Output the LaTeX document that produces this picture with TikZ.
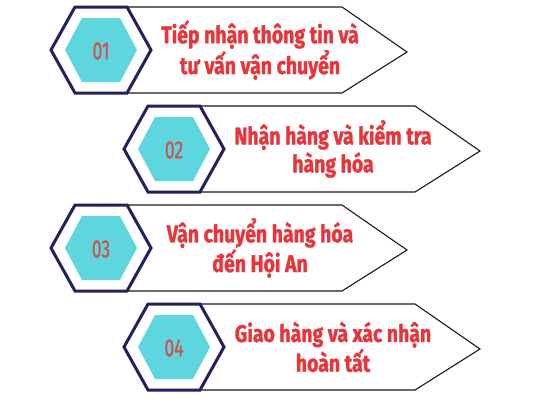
\documentclass[tikz,border=0pt]{standalone}
\usepackage{fontspec}
\setmainfont{Fira Sans}
\newfontfamily\labfont[FakeStretch=0.81,FakeBold=1.3]{Fira Sans Bold}
\newfontfamily\numfont[FakeStretch=0.7,FakeBold=0.5]{Fira Sans}
\definecolor{navy}{HTML}{232060}
\definecolor{cyanfill}{HTML}{5ED6DE}
\definecolor{labred}{HTML}{E8353B}
\definecolor{numred}{HTML}{D0504F}
\tikzset{
 outerhex/.style={draw=navy, line width=3pt, fill=white, line join=miter},
 innerhex/.style={fill=cyanfill},
 arrowbox/.style={draw=black!90, line width=1.1pt, fill=white},
 numtxt/.style={text=numred, font=\numfont\fontsize{25}{25}\selectfont, inner sep=0pt},
 labtxt/.style={text=labred, font=\labfont\fontsize{24}{28}\selectfont, align=center, inner sep=0pt},
}
\begin{document}
\begin{tikzpicture}[x=1pt,y=-1pt]
\useasboundingbox (0,0) rectangle (533,400);
\foreach \L/\cy/\n/\txt in {
  51/50/01/{Tiếp nhận thông tin và\\tư vấn vận chuyển},
  124/149/02/{Nhận hàng và kiểm tra\\hàng hóa},
  51/248/03/{Vận chuyển hàng hóa\\đến Hội An},
  124/347/04/{Giao hàng và xác nhận\\hoàn tất}}{
  \draw[arrowbox] (\L+76,\cy-43) -- (\L+291,\cy-43) -- (\L+356,\cy+2) -- (\L+291,\cy+43) -- (\L+76,\cy+43) -- cycle;
  \draw[outerhex] (\L,\cy) -- (\L+24,\cy-43) -- (\L+76,\cy-43) -- (\L+100,\cy) -- (\L+76,\cy+43) -- (\L+24,\cy+43) -- cycle;
  \fill[innerhex] (\L+14,\cy) -- (\L+31,\cy-32) -- (\L+69,\cy-32) -- (\L+86,\cy) -- (\L+69,\cy+32) -- (\L+31,\cy+32) -- cycle;
  \node[numtxt] (num\n) at (\L+50,\cy+1) {\n};
  \node[labtxt] (lab\n) at (\L+209,\cy) {\txt};
}
\end{tikzpicture}
\end{document}
